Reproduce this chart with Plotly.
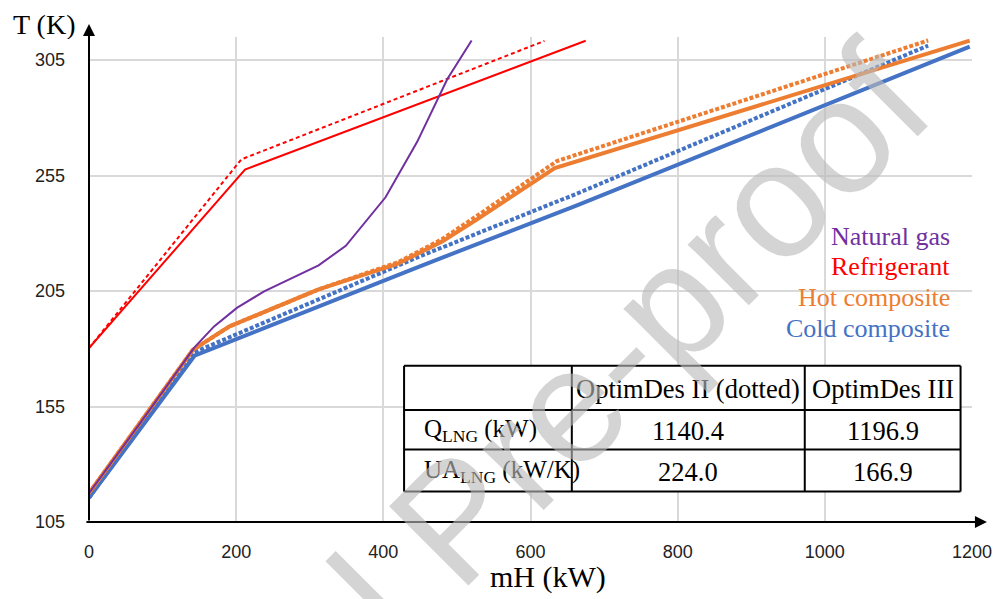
import plotly.graph_objects as go

# ---------------- data ----------------
ng_x = [0, 70, 143, 170, 201, 238, 312, 349, 403, 446, 487, 520]
ng_y = [117.5, 148, 180.5, 189.7, 197.7, 204.9, 216.1, 224.6, 245.6, 269.6, 296.8, 313.5]

ref3_x = [0, 212, 675]
ref3_y = [180.3, 257.6, 313.4]
ref2_x = [0, 207, 619]
ref2_y = [180.3, 262.0, 313.3]

hot3_x = [0, 141, 191, 312, 420, 480, 527, 633, 1196.9]
hot3_y = [117.5, 179.5, 189.7, 205.7, 216.9, 226.5, 236.0, 258.2, 313.4]
hot2_x = [0, 141, 191, 312, 420, 480, 527, 636, 1140.4]
hot2_y = [117.5, 179.5, 189.7, 205.7, 217.5, 227.5, 237.5, 261.3, 313.5]

cold3_x = [0, 143.4, 448, 664, 1196.9]
cold3_y = [115.5, 177.0, 215.5, 242.2, 310.8]
cold2_x = [0, 143, 448, 664, 1140.4]
cold2_y = [115.5, 178.5, 219.8, 247.3, 311.3]

x_ticks = [0, 200, 400, 600, 800, 1000, 1200]
y_ticks = [105, 155, 205, 255, 305]

legend_labels = ["Natural gas", "Refrigerant", "Hot composite", "Cold composite"]
table_header = ["", "OptimDes II (dotted)", "OptimDes III"]
table_rows = [
    ["Q<sub>LNG</sub> (kW)", "1140.4", "1196.9"],
    ["UA<sub>LNG</sub> (kW/K)", "224.0", "166.9"],
]

PURPLE = "#7030A0"
RED = "#FF0000"
ORANGE = "#ED7D31"
BLUE = "#4472C4"
legend_colors = [PURPLE, RED, ORANGE, BLUE]

# ---------------- layout geometry ----------------
OFF = 8                     # page body margin
W, H = 1004 - OFF, 599 - OFF
L, T = 89 - OFF, 37 - OFF
R = W - (976 - OFF)
B = H - (522 - OFF)
PW, PH = W - L - R, H - T - B


def px(page_x):
    return (page_x - OFF - L) / PW


def py(page_y):
    return (H - B - (page_y - OFF)) / PH


SERIF = "Liberation Serif, Times New Roman, serif"
SANS = "Liberation Sans, Arial, sans-serif"

fig = go.Figure()


def add_line(x, y, color, width, dash="solid"):
    fig.add_trace(go.Scatter(x=x, y=y, mode="lines", showlegend=False,
                             line=dict(color=color, width=width, dash=dash),
                             hoverinfo="skip"))


add_line(cold3_x, cold3_y, BLUE, 4)
add_line(cold2_x, cold2_y, BLUE, 4, "4px,2px")
add_line(hot3_x, hot3_y, ORANGE, 4)
add_line(hot2_x, hot2_y, ORANGE, 4, "4px,2px")
add_line(ref3_x, ref3_y, RED, 2)
add_line(ref2_x, ref2_y, RED, 2, "4px,3px")
add_line(ng_x, ng_y, PURPLE, 2)

annotations = []
shapes = []

# axis arrows
annotations.append(dict(x=px(991), y=0, xref="paper", yref="paper", text="",
                        showarrow=True, ax=-(991 - 89), ay=0, arrowhead=2,
                        arrowsize=1.2, arrowwidth=2, arrowcolor="black", standoff=0))
annotations.append(dict(x=0, y=py(24), xref="paper", yref="paper", text="",
                        showarrow=True, ax=0, ay=(522 - 24), arrowhead=2,
                        arrowsize=1.2, arrowwidth=2, arrowcolor="black", standoff=0))

# axis titles
annotations.append(dict(x=px(12), y=py(24), xref="paper", yref="paper", text="T (K)",
                        showarrow=False, xanchor="left", yanchor="middle",
                        borderpad=0, height=30, valign="middle",
                        font=dict(family=SERIF, size=28, color="black")))
annotations.append(dict(x=px(550), y=py(577), xref="paper", yref="paper", text="mH (kW)",
                        showarrow=False, xanchor="center", yanchor="middle",
                        font=dict(family=SERIF, size=30, color="black")))

# legend text
for i, (lab, col) in enumerate(zip(legend_labels, legend_colors)):
    annotations.append(dict(x=px(956), y=py(236 + i * 30.7), xref="paper", yref="paper",
                            text=lab, showarrow=False, xanchor="right", yanchor="middle",
                            font=dict(family=SERIF, size=26, color=col)))

# table
tx = [405.5, 574, 808, 964.5]
ty = [365.8, 410, 449.5, 491.6]
shapes.append(dict(type="rect", xref="paper", yref="paper", x0=px(tx[0]), x1=px(tx[-1]),
                   y0=py(ty[0]), y1=py(ty[-1]), fillcolor="white", line=dict(width=0),
                   layer="above"))
for xv in tx:
    shapes.append(dict(type="line", xref="paper", yref="paper", x0=px(xv), x1=px(xv),
                       y0=py(ty[0]), y1=py(ty[-1]), line=dict(color="black", width=2)))
for yv in ty:
    shapes.append(dict(type="line", xref="paper", yref="paper", x0=px(tx[0]), x1=px(tx[-1]),
                       y0=py(yv), y1=py(yv), line=dict(color="black", width=2)))

all_rows = [table_header] + table_rows
for r, row in enumerate(all_rows):
    yc = (ty[r] + ty[r + 1]) / 2 + 1
    for c, cell in enumerate(row):
        if not cell:
            continue
        if c == 0:
            annotations.append(dict(x=px(tx[0] + 18), y=py(yc), xref="paper", yref="paper",
                                    text=cell, showarrow=False, xanchor="left", yanchor="middle",
                                    font=dict(family=SERIF, size=25, color="black")))
        else:
            annotations.append(dict(x=px((tx[c] + tx[c + 1]) / 2), y=py(yc), xref="paper",
                                    yref="paper", text=cell, showarrow=False,
                                    xanchor="center", yanchor="middle",
                                    font=dict(family=SERIF, size=26.5, color="black")))

# watermark
annotations.append(dict(x=px(456), y=py(519), xref="paper", yref="paper",
                        text="Journal Pre-proof", showarrow=False, textangle=-45,
                        xanchor="center", yanchor="middle",
                        font=dict(family=SANS, size=163,
                                  color="rgba(185,185,185,0.62)")))

fig.update_layout(
    width=W, height=H,
    margin=dict(l=L, r=R, t=T, b=B),
    paper_bgcolor="white", plot_bgcolor="white",
    shapes=shapes, annotations=annotations,
    xaxis=dict(range=[0, 1200], tickvals=x_ticks, ticktext=[str(v) for v in x_ticks],
               showgrid=True, gridcolor="#D9D9D9", gridwidth=2, zeroline=False,
               showline=False, ticks="", ticklabelstandoff=17,
               tickfont=dict(family=SANS, size=18, color="#222222")),
    yaxis=dict(range=[105, 315], tickvals=y_ticks, ticktext=[str(v) for v in y_ticks],
               showgrid=True, gridcolor="#D9D9D9", gridwidth=2, zeroline=False,
               showline=False, ticks="", ticklabelstandoff=23,
               tickfont=dict(family=SANS, size=18, color="#222222")),
)

fig.write_html("out.html")
